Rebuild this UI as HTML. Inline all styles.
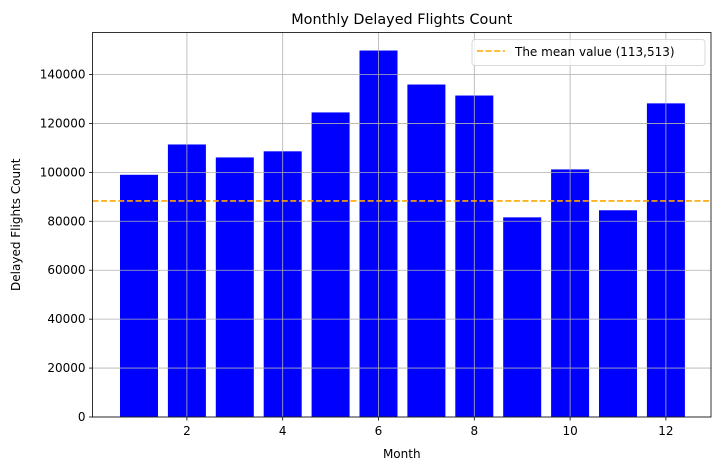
<!DOCTYPE html>
<html><head><meta charset="utf-8"><style>
body{margin:0;background:#fff;font-family:"Liberation Sans","DejaVu Sans",sans-serif;}
svg text{font-family:"DejaVu Sans","Liberation Sans",sans-serif;fill:#000;}
</style></head><body>
<svg id="chart" width="721" height="470" xmlns="http://www.w3.org/2000/svg"></svg>
<script>
const months = [1,2,3,4,5,6,7,8,9,10,11,12];
const delayedCounts = [99000,111400,106100,108600,124500,149800,135900,131400,81600,101200,84500,128200];
const meanLineValue = 88300;
const legendLabel = "The mean value (113,513)";
const yTicks = [0,20000,40000,60000,80000,100000,120000,140000];
const xTicks = [2,4,6,8,10,12];

const L=92.5,R=711,T=32.5,B=417;
const xs = m => 139 + (m-1)*47.9;
const ys = v => B - v*(B-74.5)/140000;
const svg=document.getElementById('chart');
const NS='http://www.w3.org/2000/svg';
function mk(t,a,p){const e=document.createElementNS(NS,t);for(const k in a)e.setAttribute(k,a[k]);(p||svg).appendChild(e);return e;}

const bars=mk('g',{});


months.forEach((m,i)=>{
  const y=ys(delayedCounts[i]);
  const r=mk('rect',{x:xs(m)-19,y:y,width:38,height:B-y,fill:'#0000ff'},bars);
  
  
});
const grid=mk('g',{});


yTicks.forEach(v=>{
  const y=ys(v);
  mk('line',{x1:L,x2:R,y1:y,y2:y,stroke:'#b0b0b0','stroke-width':0.8},grid);
  mk('line',{x1:L-3.5,x2:L,y1:y,y2:y,stroke:'#000','stroke-width':0.8});
  const t=mk('text',{x:L-7,y:y+4,'text-anchor':'end','font-size':'12'});
  t.textContent=v;
  
  
});
xTicks.forEach(v=>{
  const x=xs(v);
  mk('line',{x1:x,x2:x,y1:T,y2:B,stroke:'#b0b0b0','stroke-width':0.8},grid);
  mk('line',{x1:x,x2:x,y1:B,y2:B+3.5,stroke:'#000','stroke-width':0.8});
  const t=mk('text',{x:x,y:B+18,'text-anchor':'middle','font-size':'12'});
  t.textContent=v;
  
  
});
const ml=mk('line',{x1:L,x2:R,y1:ys(meanLineValue),y2:ys(meanLineValue),stroke:'#ffa500','stroke-width':1.6,'stroke-dasharray':'6,2.6'});


const frame=mk('rect',{x:L,y:T,width:R-L,height:B-T,fill:'none',stroke:'#000','stroke-width':0.8});


const lg=mk('g',{});


mk('rect',{x:472,y:39.5,width:233,height:26,rx:3,fill:'#fff','fill-opacity':0.8,stroke:'#d0d0d0','stroke-width':0.8},lg);
mk('line',{x1:477,x2:505,y1:51,y2:51,stroke:'#ffa500','stroke-width':1.6,'stroke-dasharray':'6,2.6'},lg);
const lt=mk('text',{x:515,y:56,'font-size':'12'},lg);lt.textContent=legendLabel;


const title=mk('text',{x:(L+R)/2,y:24,'text-anchor':'middle','font-size':'14.4'});title.textContent='Monthly Delayed Flights Count';


const xl=mk('text',{x:(L+R)/2,y:458,'text-anchor':'middle','font-size':'12'});xl.textContent='Month';


const yl=mk('text',{x:0,y:0,'text-anchor':'middle','font-size':'12',transform:'translate(20,'+((T+B)/2)+') rotate(-90)'});yl.textContent='Delayed Flights Count';


</script>
</body></html>
